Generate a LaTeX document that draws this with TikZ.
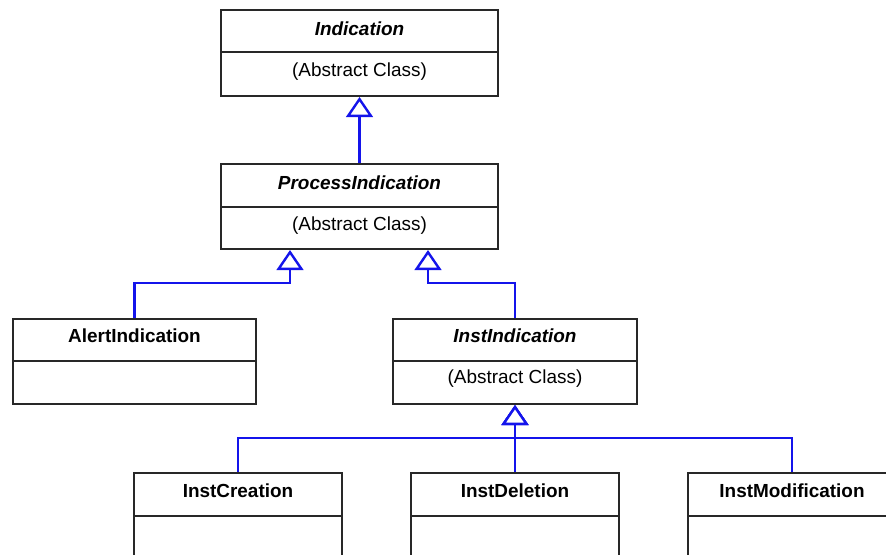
\documentclass[tikz,border=0pt]{standalone}
\usepackage{fontspec}
\setmainfont{Liberation Sans}
\usetikzlibrary{arrows.meta}
\definecolor{edge}{RGB}{40,40,40}
\definecolor{genblue}{RGB}{20,20,235}
\tikzset{
  cls/.style 2 args={draw=edge, line width=1.5pt, fill=white, inner sep=0pt,
    minimum width=#1*0.75pt, minimum height=#2*0.75pt},
  lbl/.style={inner sep=0pt, font=\fontsize{14.2pt}{17pt}\selectfont},
  gen/.style={draw=genblue, line width=1.8pt,
    -{Triangle[open, length=15pt, width=20pt, fill=white]}},
}
\begin{document}
\begin{tikzpicture}[x=0.75pt, y=-0.75pt]
\useasboundingbox (0,0) rectangle (886,554);
\clip (0,0) rectangle (886,554);

% class boxes
\node[cls={277}{86}] (ind)   at (359.5,53)    {};
\node[cls={277}{85}] (proc)  at (359.5,206.5) {};
\node[cls={243}{85}] (alert) at (134.5,361.5) {};
\node[cls={244}{85}] (inst)  at (515,361.5)   {};
\node[cls={208}{85}] (cre)   at (238,515.5)   {};
\node[cls={208}{85}] (del)   at (515,515.5)   {};
\node[cls={208}{85}] (mod)   at (792,515.5)   {};

% compartment dividers
\draw[edge, line width=1.5pt] (ind.west |- 0,52)   -- (ind.east |- 0,52);
\draw[edge, line width=1.5pt] (proc.west |- 0,207) -- (proc.east |- 0,207);
\draw[edge, line width=1.5pt] (alert.west |- 0,361) -- (alert.east |- 0,361);
\draw[edge, line width=1.5pt] (inst.west |- 0,361) -- (inst.east |- 0,361);
\draw[edge, line width=1.5pt] (cre.west |- 0,516) -- (cre.east |- 0,516);
\draw[edge, line width=1.5pt] (del.west |- 0,516) -- (del.east |- 0,516);
\draw[edge, line width=1.5pt] (mod.west |- 0,516) -- (mod.east |- 0,516);

% names and notes
\node[lbl, font=\fontsize{14.2pt}{17pt}\selectfont\bfseries\itshape] (indN)  at (359.5,29) {Indication};
\node[lbl] (indB) at (359.5,72) {(Abstract Class)};
\node[lbl, font=\fontsize{14.2pt}{17pt}\selectfont\bfseries\itshape] (procN) at (359.5,183) {ProcessIndication};
\node[lbl] (procB) at (359.5,226) {(Abstract Class)};
\node[lbl, font=\fontsize{14.2pt}{17pt}\selectfont\bfseries] (alertN) at (134.5,336) {AlertIndication};
\node[lbl, font=\fontsize{14.2pt}{17pt}\selectfont\bfseries\itshape] (instN) at (515,336) {InstIndication};
\node[lbl] (instB) at (515,379) {(Abstract Class)};
\node[lbl, font=\fontsize{14.2pt}{17pt}\selectfont\bfseries] (creN) at (238,491) {InstCreation};
\node[lbl, font=\fontsize{14.2pt}{17pt}\selectfont\bfseries] (delN) at (515,491) {InstDeletion};
\node[lbl, font=\fontsize{14.2pt}{17pt}\selectfont\bfseries] (modN) at (792,491) {InstModification};

% attachment points on the lower edge of ProcessIndication
\coordinate (pL) at ([xshift=-69.5*0.75pt]proc.south);
\coordinate (pR) at ([xshift=68.5*0.75pt]proc.south);

% generalisation connectors
\draw[gen] (proc.north) -- (ind.south);
\draw[gen] (alert.north) -- ++(0,-35) -| (pL);
\draw[gen] (inst.north) -- ++(0,-35) -| (pR);
\draw[gen] (cre.north) -- ++(0,-34) -| (inst.south);
\draw[gen] (mod.north) -- ++(0,-34) -| (inst.south);
\draw[gen] (del.north) -- (inst.south);
\end{tikzpicture}
\end{document}
